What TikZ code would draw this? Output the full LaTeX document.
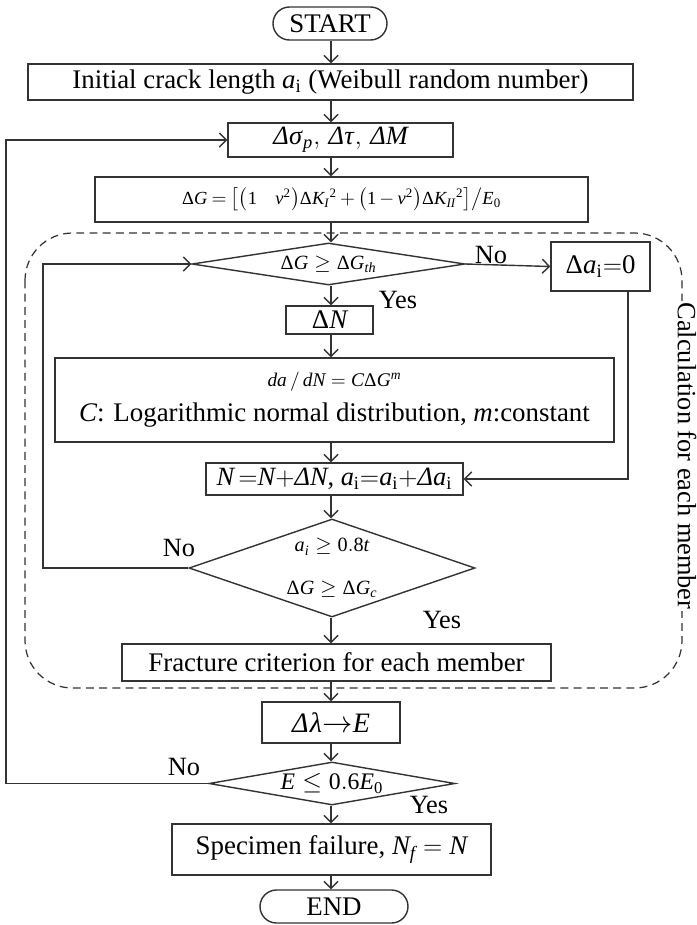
\documentclass[tikz,border=0pt]{standalone}
\usepackage{amsmath}
\usepackage{mathspec}
\setmainfont{Liberation Serif}
\setmathsfont(Digits,Latin,Greek){Liberation Serif}
\setmathrm{Liberation Serif}
\usetikzlibrary{arrows.meta,shapes.geometric}
\definecolor{linegray}{HTML}{333333}
\newcommand{\iD}{\textit{Δ}}

\begin{document}
\begin{tikzpicture}[
    >={Straight Barb[length=4pt,width=8pt]},
    procbox/.style={
      draw=linegray, line width=0.8pt,
      font=\fontsize{15.3}{17}\selectfont, text=black,
      inner sep=0pt, align=center,
    },
    termbox/.style={procbox, rounded corners=0.33cm},
    choice/.style={
      diamond, aspect=#1, draw=linegray, line width=0.8pt,
      font=\fontsize{11.5}{13}\selectfont, text=black,
      inner sep=0pt, align=center,
    },
    arr/.style={->, draw=linegray, line width=0.8pt},
    lbl/.style={font=\fontsize{15}{17}\selectfont, text=black},
  ]
  \useasboundingbox (0,0) rectangle (13.94,-18.5);

  % main axis and loop return lines
  \coordinate (ax) at (6.62,0);
  \coordinate (loopin) at (0.86,0);
  \coordinate (loopout) at (0.12,0);

  % =================== member calculation region ===================
  \draw[linegray, line width=0.7pt, dash pattern=on 4.5pt off 3pt, rounded corners=0.95cm]
    (0.5,-4.66) rectangle (13.64,-13.76);
  \node[lbl, rotate=-90, fill=white, inner sep=1pt] (calc) at (13.74,-9.12) {Calculation for each member};

  % =================== nodes (top to bottom) ===================
  \node[termbox, minimum width=2.28cm, minimum height=0.66cm] (start) at (6.6,-0.47) {START};
  \node[procbox, minimum width=12.1cm, minimum height=0.72cm] (init) at (6.61,-1.64)
    {Initial crack length $a_{\mathrm{i}}$ (Weibull random number)};
  \node[procbox, minimum width=4.5cm, minimum height=0.68cm, font=\fontsize{15}{17}\selectfont] (load) at (6.81,-2.8)
    {$\iD\sigma_p,\,\iD\tau,\,\iD M$};
  \node[procbox, minimum width=9.86cm, minimum height=0.9cm, font=\fontsize{10.5}{12}\selectfont] (energy) at (6.83,-3.99)
    {\thickmuskip=4mu\medmuskip=3mu
     $\Delta G=\bigl[\bigl(1\quad v^2\bigr)\Delta K_I{}^2+\bigl(1-v^2\bigr)\Delta K_{II}{}^2\bigr]\big/E_0$};

  \node[choice=6.5, minimum width=5.46cm, minimum height=0.84cm] (thres) at (6.57,-5.28)
    {$\Delta G\geq\Delta G_{th}$};
  \node[procbox, minimum width=1.98cm, minimum height=0.98cm] (zero) at (12.01,-5.33)
    {$\Delta a_{\mathrm{i}}{=}0$};
  \node[procbox, minimum width=1.74cm, minimum height=0.56cm] (cycle) at (6.59,-6.4) {$\Delta N$};
  \node[procbox, minimum width=11.18cm, minimum height=1.68cm] (rate) at (6.69,-8.0)
    {{\fontsize{11}{12}\selectfont$da\,/\,dN=C\Delta G^m$}\\[3pt]
     $C$: Logarithmic normal distribution, $m$:constant};
  \node[procbox, minimum width=5.14cm, minimum height=0.64cm, font=\fontsize{15}{17}\selectfont] (update) at (6.69,-9.58)
    {$N\,{=}N{+}\iD N$, $a_{\mathrm{i}}{=}a_{\mathrm{i}}{+}\iD a_{\mathrm{i}}$};
  \node[choice=2.9, minimum width=5.72cm, minimum height=1.96cm] (crit) at (6.64,-11.36)
    {$a_i\geq 0.8t$\\[11pt]$\Delta G\geq\Delta G_c$};
  \node[procbox, minimum width=8.58cm, minimum height=0.74cm] (frac) at (6.73,-13.25)
    {Fracture criterion for each member};

  \node[procbox, minimum width=2.76cm, minimum height=0.82cm, font=\fontsize{16}{18}\selectfont] (stiff) at (6.62,-14.45)
    {$\iD\lambda{\rightarrow}E$};
  \node[choice=5.7, minimum width=4.92cm, minimum height=0.86cm, font=\fontsize{13.5}{15}\selectfont] (check) at (6.64,-15.67)
    {$E\leq 0.6E_0$};
  \node[procbox, minimum width=6.38cm, minimum height=1.02cm] (fail) at (6.63,-16.99)
    {Specimen failure, $N_f=N$};
  \node[termbox, minimum width=2.96cm, minimum height=0.66cm] (end) at (6.68,-18.13) {END};

  % =================== main flow ===================
  \draw[arr] (start.south -| ax) -- (init.north -| ax);
  \draw[arr] (init.south -| ax) -- (load.north -| ax);
  \draw[arr] (load.south -| ax) -- (energy.north -| ax);
  \draw[arr] (energy.south -| ax) -- (thres.north -| ax);
  \draw[arr] (thres.south -| ax) -- (cycle.north -| ax);
  \draw[arr] (cycle.south -| ax) -- (rate.north -| ax);
  \draw[arr] (rate.south -| ax) -- (update.north -| ax);
  \draw[arr] (update.south -| ax) -- (crit.north -| ax);
  \draw[arr] (crit.south -| ax) -- (frac.north -| ax);
  \draw[arr] (frac.south -| ax) -- (stiff.north -| ax);
  \draw[arr] (stiff.south -| ax) -- (check.north -| ax);
  \draw[arr] (check.south -| ax) -- (fail.north -| ax);
  \draw[arr] (fail.south -| ax) -- (end.north -| ax);

  % =================== branches ===================
  \draw[arr] (thres.east) -- (zero.west);
  \draw[arr] ([xshift=0.55cm]zero.south) |- (update.east);
  \draw[arr] (crit.west) -- (crit.west -| loopin) |- (thres.west);
  \draw[arr] (check.west) -- (check.west -| loopout) |- (load.west);

  % Yes / No labels
  \node[lbl] (no1) at (9.82,-5.1) {No};
  \node[lbl] (yes1) at (7.96,-6.0) {Yes};
  \node[lbl] (no2) at (3.58,-10.96) {No};
  \node[lbl] (yes2) at (8.84,-12.4) {Yes};
  \node[lbl] (no3) at (3.68,-15.34) {No};
  \node[lbl] (yes3) at (8.58,-16.1) {Yes};

\end{tikzpicture}
\end{document}
